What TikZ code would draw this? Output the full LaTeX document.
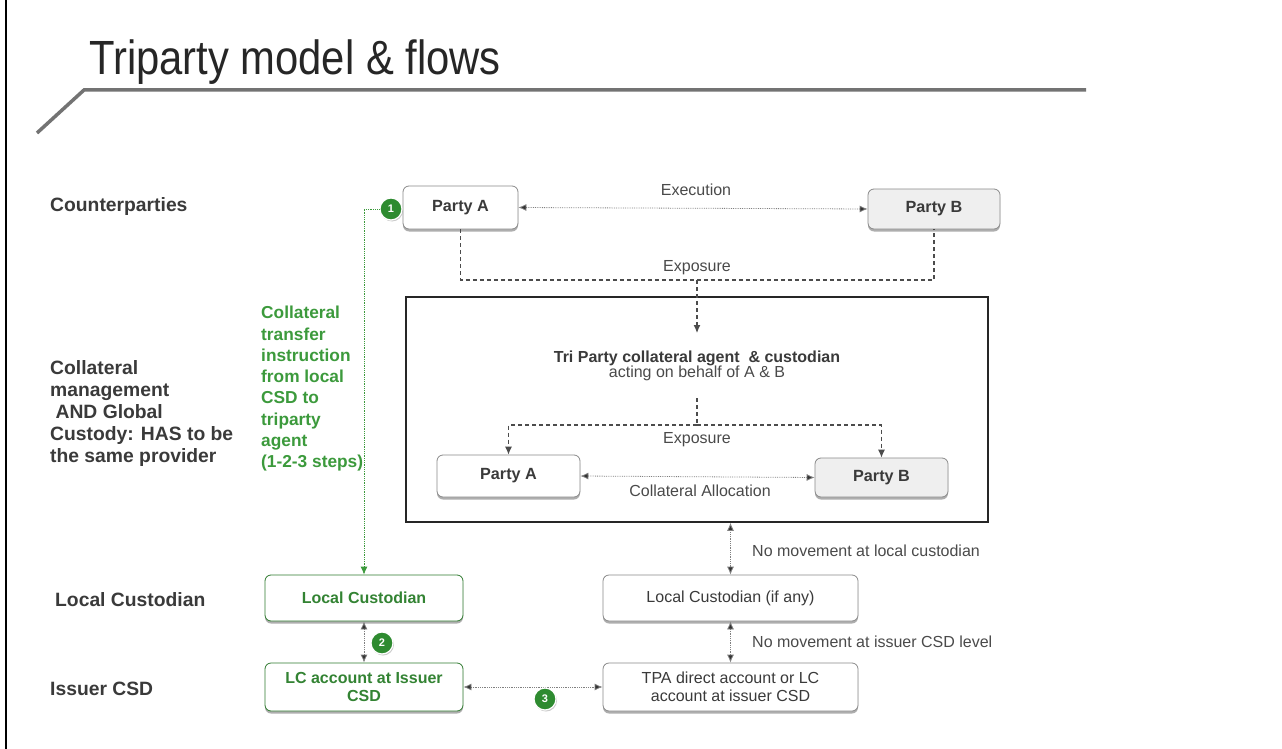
\documentclass[tikz,border=0pt]{standalone}
\usepackage{fontspec}
\setmainfont{Liberation Sans}
\newfontfamily\titlefont[FakeStretch=0.87]{Liberation Sans}
\usetikzlibrary{arrows.meta,shadows,calc}
\definecolor{txtgray}{HTML}{3A3A3A}
\definecolor{lblgray}{HTML}{4A4A4A}
\definecolor{boxborder}{HTML}{8A8A8A}
\definecolor{gtext}{HTML}{3C9A3C}
\definecolor{gcirc}{HTML}{2E8B30}
\definecolor{boxfillB}{HTML}{EFEFEF}
\tikzset{
  pbox/.style={draw=boxborder, line width=0.8pt, rounded corners=6pt, fill=white,
    minimum width=#1, inner sep=2pt, align=center, text=txtgray,
    drop shadow={shadow xshift=0pt, shadow yshift=-2.5pt, opacity=0.45, fill=black!70}},
  gbox/.style={draw=gtext!80!black, line width=0.8pt, rounded corners=6pt, fill=white,
    minimum width=#1, inner sep=2pt, align=center, text=gtext!85!black,
    font=\fontsize{16}{18}\selectfont\bfseries,
    drop shadow={shadow xshift=0pt, shadow yshift=-2.5pt, opacity=0.45, fill=black!70}},
  dotarrow/.style={densely dotted, draw=black!50, line width=0.8pt,
    {Latex[length=8pt,width=7pt,fill=black!80]}-{Latex[length=8pt,width=7pt,fill=black!80]}},
  dasharr/.style={dashed, draw=black!70, line width=1.1pt, dash pattern=on 4pt off 3pt},
  tipdown/.style={-{Latex[length=8pt,width=7pt]}},
  gcircle/.style={circle, fill=gcirc, draw=white, line width=1.2pt, text=white,
    font=\fontsize{11}{11}\selectfont\bfseries, inner sep=0pt, minimum size=22pt,
    drop shadow={shadow xshift=1pt, shadow yshift=-1.5pt, opacity=0.4}},
  lefttitle/.style={font=\fontsize{19.3}{22}\selectfont\bfseries, text=txtgray, align=left, inner sep=0pt},
  sidelbl/.style={font=\fontsize{16}{18}\selectfont, text=lblgray, inner sep=0pt},
  boxbold/.style={font=\fontsize{16.2}{18}\selectfont\bfseries},
  boxreg/.style={font=\fontsize{16}{18}\selectfont},
}
\begin{document}
\begin{tikzpicture}[x=1pt,y=-1pt]
\useasboundingbox (0,0) rectangle (1282,749);
\fill[white] (0,0) rectangle (1282,749);
% page left border
\draw[line width=2pt, black] (6,-2) -- (6,751);
% title and rule
\node[anchor=base west, inner sep=0pt, text=black!85] (title) at (89,75)
  {\titlefont\fontsize{48}{48}\selectfont Triparty model \& flows};
\coordinate (r0) at (37,133);
\coordinate (r1) at (84,90);
\coordinate (r2) at (1086,90);
\draw[line width=3.5pt, black!55] (r0) -- (r1) -- (r2);

% left labels
\node[lefttitle, anchor=west] (lcp) at (50,207) {Counterparties};
\node[lefttitle, anchor=north west] (lcm) at (50,360)
  {Collateral\\management\\\hspace*{0.28em}AND Global\\Custody: HAS to be\\the same provider};
\node[lefttitle, anchor=west] (llc) at (55,600) {Local Custodian};
\node[lefttitle, anchor=west] (lis) at (50,689) {Issuer CSD};

% green explanation
\node[font=\fontsize{17.3}{21.3}\selectfont\bfseries, text=gtext, align=left, inner sep=0pt,
  anchor=north west] (gtxt) at (261,306)
  {Collateral\\transfer\\instruction\\from local\\CSD to\\triparty\\agent\\(1-2-3 steps)};

% top parties
\node[pbox=115pt, minimum height=43pt, boxbold] (pA1) at (460.5,207.5) {Party A};
\node[pbox=132pt, minimum height=40pt, fill=boxfillB, boxbold] (pB1) at (934,209) {Party B};
\draw[dotarrow] (pA1.east) -- (pB1.west);
\node[sidelbl, anchor=base] (lexec) at (696,195) {Execution};

% exposure from parties
\coordinate (e1) at (697,280);
\draw[dasharr] (pA1.south) |- (e1) -| (pB1.south);
\node[sidelbl, anchor=base] (lexp1) at (697,271) {Exposure};

% big box
\node[draw=black!85, line width=1.6pt, minimum width=582pt, minimum height=225pt, inner sep=0pt] (big) at (697,409.5) {};
\node[inner sep=0pt, align=center, text=txtgray] (tri) at (697,366)
  {{\fontsize{16}{18}\selectfont\bfseries Tri Party collateral agent \ \& custodian}\\[-1.5pt]
   {\fontsize{16}{18}\selectfont\color{lblgray} acting on behalf of A \& B}};
\coordinate (a1) at (697,333);
\draw[dasharr, tipdown] (e1) -- (a1);

\node[pbox=143pt, minimum height=42pt, boxbold] (pA2) at (508.5,476) {Party A};
\node[pbox=133pt, minimum height=39pt, fill=boxfillB, boxbold] (pB2) at (881.5,477.5) {Party B};
\coordinate (e2top) at (697,398);
\coordinate (e2) at (697,425);
\draw[dasharr] (e2top) -- (e2);
\draw[dasharr, tipdown] (e2) -| (pA2.north);
\draw[dasharr, tipdown] (e2) -| (pB2.north);
\node[sidelbl, anchor=base] (lexp2) at (697,443) {Exposure};
\draw[dotarrow] (pA2.east) -- (pB2.west);
\node[sidelbl, anchor=base] (lalloc) at (700,496) {Collateral Allocation};

% right column
\node[pbox=255pt, minimum height=46pt, boxreg] (lcany) at (730.5,598) {Local Custodian (if any)};
\node[pbox=255pt, minimum height=48pt, boxreg] (tpa) at (730.5,687) {TPA direct account or LC\\account at issuer CSD};
\draw[dotarrow] (big.south -| lcany.north) -- (lcany.north);
\draw[dotarrow] (lcany.south) -- (tpa.north);
\node[sidelbl, anchor=base west] (lnm1) at (752,556) {No movement at local custodian};
\node[sidelbl, anchor=base west] (lnm2) at (752,647) {No movement at issuer CSD level};

% left column
\node[gbox=198pt, minimum height=46pt] (lc) at (364,598) {Local Custodian};
\node[gbox=198pt, minimum height=48pt] (lcacc) at (364,687) {LC account at Issuer\\CSD};
\draw[dotarrow] (lc.south) -- (lcacc.north);
\draw[dotarrow] (lcacc.east) -- (tpa.west);

% step circles
\node[gcircle] (c1) at (391,209) {1};
\node[gcircle] (c2) at (382,643) {2};
\node[gcircle] (c3) at (545,699) {3};

% green instruction path
\draw[densely dotted, draw=gtext, line width=0.8pt, -{Latex[length=8pt,width=7pt,fill=gtext]}] (c1.west) -| (lc.north);
\end{tikzpicture}
\end{document}
